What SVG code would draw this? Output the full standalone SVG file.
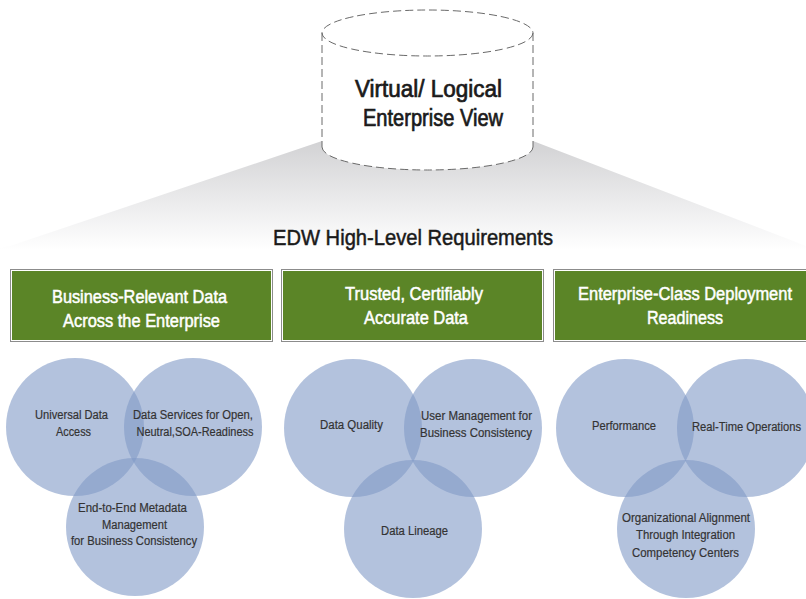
<svg xmlns="http://www.w3.org/2000/svg" width="806" height="599" viewBox="0 0 806 599">
  <defs>
    <linearGradient id="fanGrad" gradientUnits="userSpaceOnUse" x1="0" y1="141" x2="0" y2="250">
      <stop offset="0" stop-color="#d2d2d4"/>
      <stop offset="0.6" stop-color="#ededee"/>
      <stop offset="1" stop-color="#ffffff"/>
    </linearGradient>
  </defs>
  <style>
    .cyl { fill: none; stroke: #6a6a6a; stroke-width: 1; stroke-dasharray: 8 4; }
    .cyltxt { font-family: "Liberation Sans Narrow", "Liberation Sans", sans-serif; font-size: 23px; fill: #1a1a1a; stroke: #1a1a1a; stroke-width: 0.7; }
    .title { font-family: "Liberation Sans Narrow", "Liberation Sans", sans-serif; font-size: 22px; fill: #1a1a1a; stroke: #1a1a1a; stroke-width: 0.5; text-anchor: middle; }
    .hdrOuter { fill: #ffffff; stroke: #8c8c8c; stroke-width: 1; }
    .hdrInner { fill: #5b8527; }
    .hdrtxt { font-family: "Liberation Sans Narrow", "Liberation Sans", sans-serif; font-size: 17.5px; fill: #ffffff; stroke: #ffffff; stroke-width: 0.5; text-anchor: middle; }
    .circ { fill: #8099c6; fill-opacity: 0.6; }
    .ctxt { font-family: "Liberation Sans Narrow", "Liberation Sans", sans-serif; font-size: 12.5px; fill: #333333; stroke: #333333; stroke-width: 0.2; text-anchor: middle; }
  </style>

  <rect width="806" height="599" fill="#ffffff"/>

  <!-- fan background -->
  <polygon points="322,141 533,141 806,246 806,252 0,252 0,248 10,246" fill="url(#fanGrad)"/>

  <g id="connectors"/>

  <!-- cylinder -->
  <g id="virtual-logical-view">
    <path d="M322,33 L322,147 A105.5,23 0 0 0 533,147 L533,33 A105.5,23 0 0 0 322,33 Z" fill="#ffffff"/>
    <ellipse class="cyl" cx="427.5" cy="33" rx="105.5" ry="23"/>
    <line class="cyl" x1="322" y1="33" x2="322" y2="147"/>
    <line class="cyl" x1="533" y1="33" x2="533" y2="147"/>
    <path class="cyl" d="M322,147 A105.5,23 0 0 0 533,147"/>
    <text class="cyltxt" x="355" y="97" textLength="147" lengthAdjust="spacingAndGlyphs">Virtual/ Logical</text>
    <text class="cyltxt" x="363" y="126" textLength="140" lengthAdjust="spacingAndGlyphs">Enterprise View</text>
  </g>

  <g id="title">
    <text class="title" x="413" y="245" textLength="280" lengthAdjust="spacingAndGlyphs">EDW High-Level Requirements</text>
  </g>

  <!-- headers -->
  <g id="hdr-business">
    <rect class="hdrOuter" x="10.5" y="269.5" width="262" height="72"/>
    <rect class="hdrInner" x="12" y="271" width="259" height="69"/>
    <text class="hdrtxt" x="139.5" y="303" textLength="175" lengthAdjust="spacingAndGlyphs">Business-Relevant Data</text>
    <text class="hdrtxt" x="141.5" y="327" textLength="157" lengthAdjust="spacingAndGlyphs">Across the Enterprise</text>
  </g>
  <g id="hdr-trusted">
    <rect class="hdrOuter" x="281.5" y="269.5" width="262" height="72"/>
    <rect class="hdrInner" x="283" y="271" width="259" height="69"/>
    <text class="hdrtxt" x="414" y="300" textLength="138" lengthAdjust="spacingAndGlyphs">Trusted, Certifiably</text>
    <text class="hdrtxt" x="416" y="324" textLength="104" lengthAdjust="spacingAndGlyphs">Accurate Data</text>
  </g>
  <g id="hdr-enterprise">
    <rect class="hdrOuter" x="553.5" y="269.5" width="262" height="72"/>
    <rect class="hdrInner" x="555" y="271" width="259" height="69"/>
    <text class="hdrtxt" x="685" y="300" textLength="214" lengthAdjust="spacingAndGlyphs">Enterprise-Class Deployment</text>
    <text class="hdrtxt" x="685" y="324" textLength="76" lengthAdjust="spacingAndGlyphs">Readiness</text>
  </g>

  <!-- group 1 circles -->
  <g id="c-universal-data-access">
    <circle class="circ" cx="75" cy="427" r="69"/>
  </g>
  <g id="c-data-services">
    <circle class="circ" cx="193" cy="427" r="69"/>
  </g>
  <g id="c-metadata">
    <circle class="circ" cx="135" cy="527" r="69"/>
  </g>

  <!-- group 2 circles -->
  <g id="c-data-quality">
    <circle class="circ" cx="353" cy="428" r="69"/>
  </g>
  <g id="c-user-management">
    <circle class="circ" cx="473" cy="428" r="69"/>
  </g>
  <g id="c-data-lineage">
    <circle class="circ" cx="413" cy="529" r="69"/>
  </g>

  <!-- group 3 circles -->
  <g id="c-performance">
    <circle class="circ" cx="625" cy="428" r="69"/>
  </g>
  <g id="c-real-time">
    <circle class="circ" cx="746" cy="428" r="69"/>
  </g>
  <g id="c-org-alignment">
    <circle class="circ" cx="686" cy="529" r="69"/>
  </g>

  <!-- circle labels -->
  <g id="circle-labels">
    <text class="ctxt" x="71.5" y="419" textLength="73" lengthAdjust="spacingAndGlyphs">Universal Data</text>
    <text class="ctxt" x="73.5" y="436" textLength="35" lengthAdjust="spacingAndGlyphs">Access</text>
    <text class="ctxt" x="193" y="419" textLength="120" lengthAdjust="spacingAndGlyphs">Data Services for Open,</text>
    <text class="ctxt" x="195" y="435.5" textLength="117" lengthAdjust="spacingAndGlyphs">Neutral,SOA-Readiness</text>
    <text class="ctxt" x="132.5" y="511.5" textLength="109" lengthAdjust="spacingAndGlyphs">End-to-End Metadata</text>
    <text class="ctxt" x="134.5" y="528.5" textLength="65" lengthAdjust="spacingAndGlyphs">Management</text>
    <text class="ctxt" x="134" y="545" textLength="126" lengthAdjust="spacingAndGlyphs">for Business Consistency</text>

    <text class="ctxt" x="351.5" y="429" textLength="63" lengthAdjust="spacingAndGlyphs">Data Quality</text>
    <text class="ctxt" x="476.5" y="419.5" textLength="111" lengthAdjust="spacingAndGlyphs">User Management for</text>
    <text class="ctxt" x="476" y="436.5" textLength="112" lengthAdjust="spacingAndGlyphs">Business Consistency</text>
    <text class="ctxt" x="414.5" y="535" textLength="67" lengthAdjust="spacingAndGlyphs">Data Lineage</text>

    <text class="ctxt" x="624" y="430" textLength="64" lengthAdjust="spacingAndGlyphs">Performance</text>
    <text class="ctxt" x="746.5" y="430.5" textLength="109" lengthAdjust="spacingAndGlyphs">Real-Time Operations</text>
    <text class="ctxt" x="686" y="521.5" textLength="128" lengthAdjust="spacingAndGlyphs">Organizational Alignment</text>
    <text class="ctxt" x="685.5" y="539" textLength="99" lengthAdjust="spacingAndGlyphs">Through Integration</text>
    <text class="ctxt" x="685.5" y="556.5" textLength="107" lengthAdjust="spacingAndGlyphs">Competency Centers</text>
  </g>
</svg>
